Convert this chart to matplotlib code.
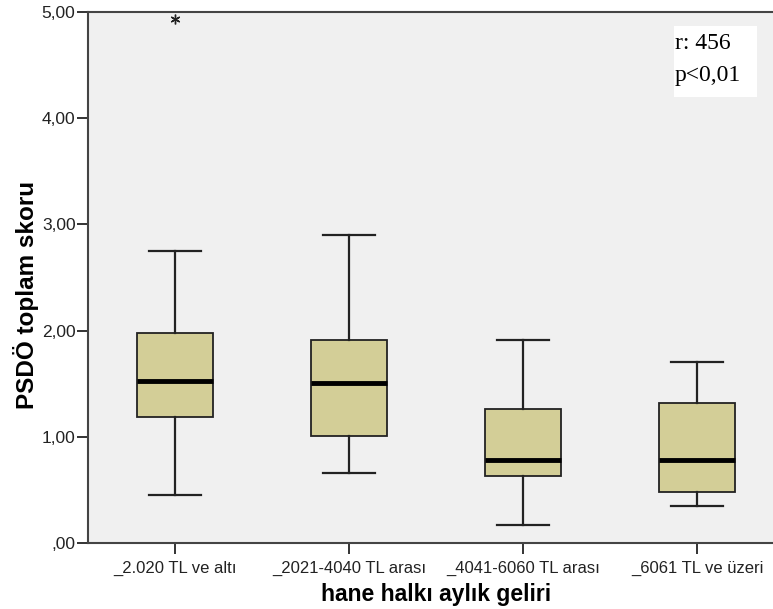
import matplotlib
matplotlib.use("Agg")
import matplotlib.pyplot as plt
from matplotlib.patches import Rectangle

plt.rcParams['font.family'] = ['Liberation Sans', 'DejaVu Sans']

# income groups and box stats
groups = ["_2.020 TL ve altı", "_2021-4040 TL arası", "_4041-6060 TL arası", "_6061 TL ve üzeri"]
whislo = [0.45, 0.66, 0.17, 0.35]
q1 = [1.19, 1.01, 0.63, 0.48]
med = [1.53, 1.51, 0.78, 0.78]
q3 = [1.98, 1.91, 1.26, 1.32]
whishi = [2.75, 2.90, 1.91, 1.70]
outliers = [[4.93], [], [], []]

stats = []
for i, g in enumerate(groups):
    stats.append(dict(label=g, whislo=whislo[i], q1=q1[i], med=med[i],
                      q3=q3[i], whishi=whishi[i], fliers=outliers[i]))

fig = plt.figure(figsize=(7.73, 6.09), dpi=100)
ax = fig.add_axes([88/773, 66/609, 696/773, 531/609])
ax.set_facecolor('#F0F0F0')

ax.bxp(stats, positions=[1, 2, 3, 4], widths=0.44, patch_artist=True,
       boxprops=dict(facecolor='#D3CE97', edgecolor='#222222', linewidth=1.3),
       medianprops=dict(color='black', linewidth=3.5),
       whiskerprops=dict(color='#222222', linewidth=1.6),
       capprops=dict(color='#222222', linewidth=1.6),
       capwidths=0.3,
       flierprops=dict(marker=(6, 2, 0), markersize=7, markeredgecolor='#222222',
                       markerfacecolor='none', markeredgewidth=1.0))

ax.set_xlim(0.5, 4.5)
ax.set_ylim(0, 5)
ax.set_yticks([0, 1, 2, 3, 4, 5])
ax.set_yticklabels([",00", "1,00", "2,00", "3,00", "4,00", "5,00"])
ax.tick_params(axis='both', color='#333333', length=8, width=1.4)
ax.tick_params(axis='y', labelsize=12.5, pad=1)
ax.tick_params(axis='x', labelsize=12, pad=5)
for lab in ax.get_yticklabels() + ax.get_xticklabels():
    lab.set_color('#222222')
for s in ['left', 'bottom', 'top']:
    ax.spines[s].set_color('#444444')
    ax.spines[s].set_linewidth(1.5)
ax.spines['right'].set_visible(False)

ax.set_ylabel("PSDÖ toplam skoru", fontsize=17.5, fontweight='bold')
ax.yaxis.set_label_coords(-0.071, 0.468)
ax.set_xlabel("hane halkı aylık geliri", fontsize=16.5, fontweight='bold', labelpad=5)

ax.add_patch(Rectangle((0.842, 0.840), 0.119, 0.134, transform=ax.transAxes,
                       facecolor='white', edgecolor='none', zorder=3))
ax.text(0.843, 0.941, "r: 456", transform=ax.transAxes, ha='left', va='center',
        fontsize=17, family='Liberation Serif', zorder=4)
ax.text(0.843, 0.881, "p<0,01", transform=ax.transAxes, ha='left', va='center',
        fontsize=17, family='Liberation Serif', zorder=4)

fig.savefig("out.png", dpi=100)
